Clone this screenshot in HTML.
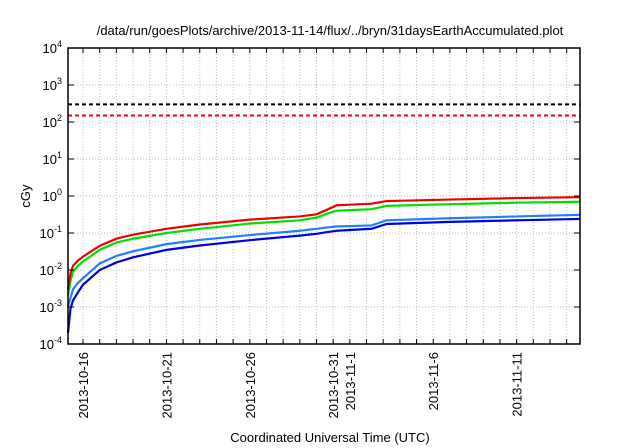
<!DOCTYPE html>
<html><head><meta charset="utf-8"><style>
body{margin:0;background:#fff}
svg{display:block;font-family:"Liberation Sans",sans-serif}
</style></head><body>
<svg id="c" width="640" height="448">
<text x="330" y="35" text-anchor="middle" font-size="13">/data/run/goesPlots/archive/2013-11-14/flux/../bryn/31daysEarthAccumulated.plot</text>
<text x="330" y="442" text-anchor="middle" font-size="13">Coordinated Universal Time (UTC)</text>
<text transform="translate(30,196) rotate(-90)" text-anchor="middle" font-size="13">cGy</text>
<g id="grid"></g><g id="series"></g><g id="axes"></g>
</svg>
<script>
// days relative to 2013-10-16
const days     = [-0.9, -0.75, -0.6, -0.3, 0, 1, 2, 3, 5, 7, 10, 13, 14, 14.6, 15.2, 17.3, 18.2, 22, 26, 29.8];
const red      = [0.003, 0.008, 0.013, 0.018, 0.023, 0.045, 0.07, 0.09, 0.13, 0.17, 0.23, 0.28, 0.32, 0.42, 0.56, 0.62, 0.73, 0.8, 0.88, 0.93];
const green    = [0.002, 0.005, 0.009, 0.013, 0.017, 0.035, 0.055, 0.07, 0.1, 0.13, 0.18, 0.22, 0.26, 0.33, 0.4, 0.44, 0.54, 0.6, 0.66, 0.7];
const ltblue   = [0.001, 0.0018, 0.003, 0.0045, 0.006, 0.015, 0.024, 0.032, 0.05, 0.065, 0.088, 0.115, 0.13, 0.14, 0.15, 0.16, 0.22, 0.25, 0.28, 0.31];
const dkblue   = [0.0002, 0.0009, 0.0015, 0.0025, 0.004, 0.01, 0.016, 0.022, 0.035, 0.046, 0.064, 0.085, 0.095, 0.105, 0.115, 0.13, 0.175, 0.2, 0.22, 0.24];
const limitBlack = 300, limitRed = 150;
const yExps = [-4,-3,-2,-1,0,1,2,3,4];
const xTickLabels = ["2013-10-16","2013-10-21","2013-10-26","2013-10-31","2013-11-1","2013-11-6","2013-11-11"];
const xTickDays = [0,5,10,15,16,21,26];

const L=68,R=580,T=48,B=344, XMIN=-0.9, XMAX=29.8;
const X=d=>L+(d-XMIN)/(XMAX-XMIN)*(R-L);
const Y=v=>B-(Math.log10(v)+4)/8*(B-T);
const NS="http://www.w3.org/2000/svg";
function mk(tag,attrs,parent){const e=document.createElementNS(NS,tag);for(const k in attrs)e.setAttribute(k,attrs[k]);parent.appendChild(e);return e;}
const grid=document.getElementById('grid'),ser=document.getElementById('series'),ax=document.getElementById('axes');
for(let d=Math.ceil(XMIN);d<=XMAX;d++){
  const g=mk('line',{x1:X(d),x2:X(d),y1:T,y2:B,stroke:'#bbb','stroke-dasharray':'1,2','stroke-width':1},grid);
  
  
  mk('line',{x1:X(d),x2:X(d),y1:B,y2:B-5,stroke:'#000'},ax);
  mk('line',{x1:X(d),x2:X(d),y1:T,y2:T+5,stroke:'#000'},ax);
}
yExps.forEach(e=>{
  const y=Y(Math.pow(10,e));
  if(e>-4&&e<4){const g=mk('line',{x1:L,x2:R,y1:y,y2:y,stroke:'#bbb','stroke-dasharray':'1,2'},grid);
  
  }
  mk('line',{x1:L,x2:L+6,y1:y,y2:y,stroke:'#000'},ax);
  mk('line',{x1:R,x2:R-6,y1:y,y2:y,stroke:'#000'},ax);
  const t=mk('text',{x:L-6,y:y+5,'text-anchor':'end','font-size':13},ax);
  
  
  t.innerHTML='10<tspan dy="-6" font-size="9">'+e+'</tspan>';
});
xTickDays.forEach((d,i)=>{
  const t=mk('text',{transform:`translate(${X(d)+5},${B+8}) rotate(-90)`,'text-anchor':'end','font-size':13},ax);
  
  
  t.textContent=xTickLabels[i];
});
[[limitBlack,'#000','limit-300'],[limitRed,'#f00','limit-150']].forEach(([v,c,n])=>{
  const l=mk('line',{x1:L,x2:R,y1:Y(v),y2:Y(v),stroke:c,'stroke-width':2,'stroke-dasharray':'4,3'},ser);
  
  
});
[[dkblue,'#0000e0','dark-blue-series'],[ltblue,'#1e7fff','light-blue-series'],[green,'#00e000','green-series'],[red,'#f00000','red-series']].forEach(([arr,c,n])=>{
  const p=mk('polyline',{points:arr.map((v,i)=>X(days[i])+','+Y(v)).join(' '),fill:'none',stroke:c,'stroke-width':2.2},ser);
  
  
});
const fr=mk('rect',{x:L,y:T,width:R-L,height:B-T,fill:'none',stroke:'#000','stroke-width':1.5},ax);


</script>
</body></html>
